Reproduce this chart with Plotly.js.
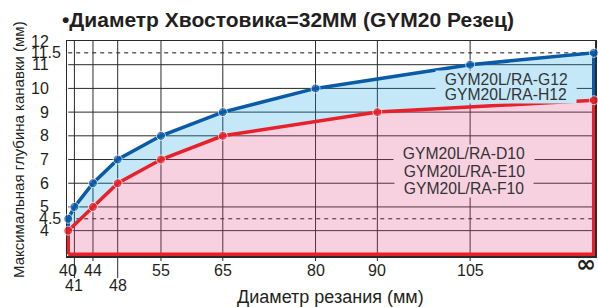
<!DOCTYPE html>
<html>
<head>
<meta charset="utf-8">
<script src="https://cdn.plot.ly/plotly-3.0.1.min.js"></script>
<style>html,body{margin:0;padding:0;background:#fff;}#chart{width:598px;height:307px;}</style>
</head>
<body>
<div id="chart"></div>
<script>
// ---- data ----
const blueX = [40, 41, 44, 48, 55, 65, 80, 105, 125];
const blueY = [4.5, 5, 6, 7, 8, 9, 10, 11, 11.5];
const redX = [40, 44, 48, 55, 65, 90, 125];
const redY = [4, 5, 6, 7, 8, 9, 9.5];
const xTickVals = [40, 41, 44, 48, 55, 65, 80, 90, 105, 125];
const xTickText = ['40', '41', '44', '48', '55', '65', '80', '90', '105', '∞'];
const xLowerRow = [41, 48];
const yTickVals = [4, 4.5, 5, 6, 7, 8, 9, 10, 11, 11.5, 12];
const yTickText = ['4', '4.5', '5', '6', '7', '8', '9', '10', '11', '11.5', '12'];
const yDashed = [4.5, 11.5];
const blueLabels = ['GYM20L/RA-G12', 'GYM20L/RA-H12'];
const redLabels = ['GYM20L/RA-D10', 'GYM20L/RA-E10', 'GYM20L/RA-F10'];
const titleText = '•Диаметр Хвостовика=32MM (GYM20 Резец)';
const xTitle = 'Диаметр резания (мм)';
const yTitle = 'Максимальная глубина канавки (мм)';

// ---- styling ----
const yMin = 3, yMax = 12;
const xMin = redX[0], xMax = redX[redX.length - 1];
const blueCol = '#0a5aa8', redCol = '#e8202a';
const blueFill = 'rgba(19,163,227,0.25)', blueFillSolid = 'rgb(196,232,248)';
const pinkFill = 'rgba(227,71,135,0.25)', pinkFillSolid = 'rgb(248,209,225)';
const gridCol = '#2a2a2a', textCol = '#231f20';
const FONT = 'Liberation Sans, Arial, sans-serif';
const PH = 215, PW = 528;

const last = a => a[a.length - 1];

const traces = [
  { // pink fill under red curve
    x: redX, y: redY, mode: 'none', fill: 'tozeroy', fillcolor: pinkFill,
    hoverinfo: 'skip', showlegend: false
  },
  { // blue curve, filled down to red curve
    x: [redX[0]].concat(blueX, [last(redX)]),
    y: [redY[0]].concat(blueY, [last(redY)]),
    mode: 'lines+markers', fill: 'tonexty', fillcolor: blueFill,
    line: {color: blueCol, width: 3.5},
    marker: {color: blueCol, size: [0].concat(blueX.map(() => 9), [0])},
    cliponaxis: false, showlegend: false
  },
  { // red curve and its boundary
    x: [redX[0]].concat(redX, [last(redX), redX[0]]),
    y: [yMin].concat(redY, [yMin, yMin]),
    mode: 'lines+markers',
    line: {color: redCol, width: 3.5},
    marker: {color: redCol, size: [0].concat(redX.map(() => 9), [0, 0])},
    cliponaxis: false, showlegend: false
  }
];

const shapes = [];
// horizontal grid
yTickVals.filter(v => v > yMin && v < yMax).forEach(v => {
  const dashed = yDashed.includes(v);
  shapes.push({type: 'line', layer: 'below', xref: 'x', yref: 'y',
    x0: xMin, x1: xMax, y0: v, y1: v,
    line: {color: dashed ? '#111' : gridCol, width: 1, dash: dashed ? '4px,4px' : 'solid'}});
});
// vertical grid
xTickVals.filter(v => v > xMin && v < xMax).forEach(v => {
  shapes.push({type: 'line', layer: 'below', xref: 'x', yref: 'y',
    x0: v, x1: v, y0: yMin, y1: yMax, line: {color: gridCol, width: 1}});
  const long = xLowerRow.includes(v);
  shapes.push({type: 'line', layer: 'below', xref: 'x', yref: 'paper',
    x0: v, x1: v, y0: 0, y1: -(long ? 22 : 5) / PH, line: {color: gridCol, width: 1}});
});

const annotations = [];
// y tick labels
yTickVals.forEach((v, i) => {
  const t = yTickText[i];
  annotations.push({xref: 'paper', yref: 'y', x: 0, y: v, xanchor: 'right', yanchor: 'middle',
    xshift: t.includes('.') ? -5 : -17, text: t, showarrow: false, borderpad: 0,
    font: {family: FONT, size: 16, color: textCol}});
});
// x tick labels
xTickVals.forEach((v, i) => {
  const t = xTickText[i];
  const isInf = t === '∞';
  if (isInf) {
    annotations.push({xref: 'paper', yref: 'paper', x: 1, y: 0, xanchor: 'right', yanchor: 'middle',
      xshift: 2, yshift: -8, text: '<b>' + t + '</b>', showarrow: false, borderpad: 0,
      font: {family: 'DejaVu Sans, sans-serif', size: 24, color: textCol}});
  } else {
    annotations.push({xref: 'x', yref: 'paper', x: v, y: 0, xanchor: 'center', yanchor: 'top',
      yshift: xLowerRow.includes(v) ? -20 : -5, text: t, borderpad: 0,
      showarrow: false, font: {family: FONT, size: 16, color: textCol}});
  }
});
// series labels
const blueLabelY = [79, 94];
blueLabels.forEach((t, i) => {
  annotations.push({xref: 'paper', yref: 'paper', x: (506 - 67) / PW, y: (256 - blueLabelY[i]) / PH,
    xanchor: 'center', yanchor: 'middle', text: '\u00a0\u00a0' + t + '\u00a0\u00a0', showarrow: false,
    bgcolor: blueFillSolid, borderpad: 0, font: {family: FONT, size: 15.7, color: '#333'}});
});
const redLabelY = [153, 171, 188];
redLabels.forEach((t, i) => {
  annotations.push({xref: 'paper', yref: 'paper', x: (464 - 67) / PW, y: (256 - redLabelY[i]) / PH,
    xanchor: 'center', yanchor: 'middle', text: '\u00a0\u00a0' + t + '\u00a0\u00a0', showarrow: false,
    bgcolor: pinkFillSolid, borderpad: 0, font: {family: FONT, size: 15.7, color: '#333'}});
});
// axis titles
annotations.push({xref: 'paper', yref: 'paper', x: (330 - 67) / PW, y: (256 - 297) / PH,
  xanchor: 'center', yanchor: 'middle', text: xTitle, showarrow: false,
  font: {family: FONT, size: 18, color: textCol}});
annotations.push({xref: 'paper', yref: 'paper', x: (18 - 67) / PW, y: (256 - 150) / PH,
  xanchor: 'center', yanchor: 'middle', textangle: -90, text: yTitle, showarrow: false,
  font: {family: FONT, size: 15, color: textCol}});

const layout = {
  width: 598, height: 307,
  margin: {l: 67, r: 3, t: 41, b: 51, pad: 0},
  paper_bgcolor: '#fff', plot_bgcolor: '#fff',
  showlegend: false,
  title: {text: '<b>' + titleText + '</b>', xref: 'container', yref: 'container',
    x: 62 / 598, xanchor: 'left', y: 1 - 20 / 307, yanchor: 'middle',
    font: {family: FONT, size: 21, color: textCol}},
  xaxis: {range: [39.8, 125.2], showgrid: false, zeroline: false, showline: true, mirror: true,
    linecolor: gridCol, linewidth: 1.5, ticks: '', showticklabels: false, layer: 'below traces',
    fixedrange: true},
  yaxis: {range: [2.93, 12], showgrid: false, zeroline: false, showline: true, mirror: true,
    linecolor: gridCol, linewidth: 1.5, ticks: '', showticklabels: false, layer: 'below traces',
    fixedrange: true},
  shapes: shapes,
  annotations: annotations
};

Plotly.newPlot('chart', traces, layout, {displayModeBar: false, staticPlot: true});
</script>
</body>
</html>
